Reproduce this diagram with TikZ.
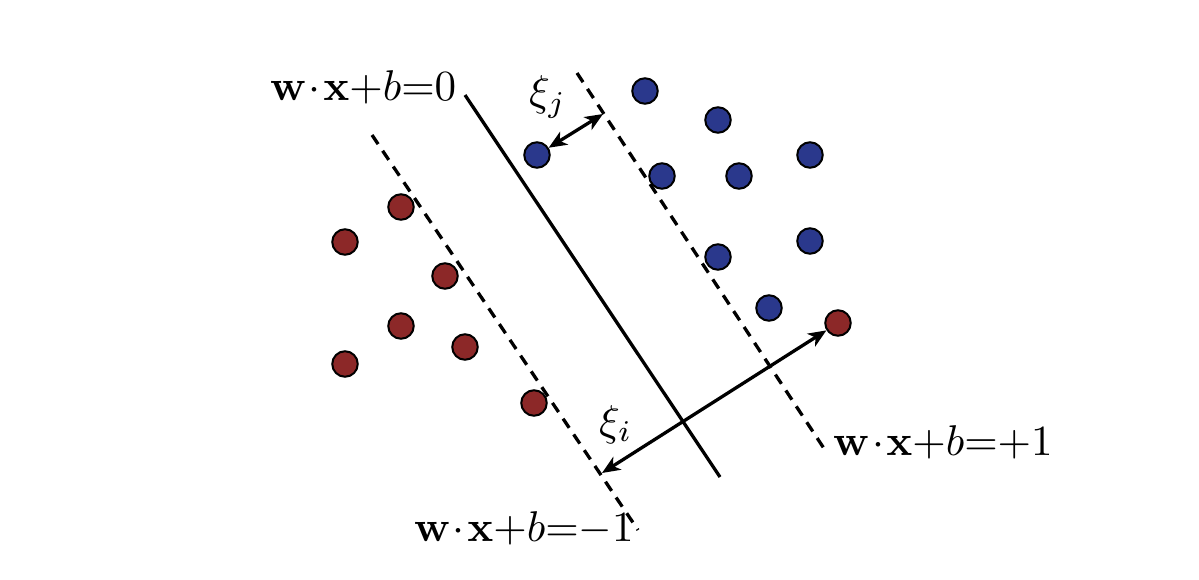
\documentclass[tikz,border=0pt]{standalone}
\usetikzlibrary{arrows.meta}
\definecolor{dotblue}{RGB}{42,56,140}
\definecolor{dotred}{RGB}{140,40,40}
\newcommand{\bigmath}[1]{\scalebox{4.3}{$#1$}}
\begin{document}
\begin{tikzpicture}[x=1pt,y=-1pt,
  dotbase/.style={circle,draw=black,line width=2pt,minimum size=25.5pt,inner sep=0pt},
  bdot/.style={dotbase,fill=dotblue},
  rdot/.style={dotbase,fill=dotred},
  hyper/.style={line width=3.3pt},
  marginline/.style={line width=3.3pt,dash pattern=on 11pt off 8pt},
  dist/.style={line width=3.3pt,{Stealth[length=18pt,width=15pt,inset=5pt]}-{Stealth[length=18pt,width=15pt,inset=5pt]}},
  lbl/.style={anchor=base west,inner sep=0pt}]
\useasboundingbox (0,0) rectangle (1199,580);
% blue points
\node[bdot] (b1) at (645,91) {};
\node[bdot] (b2) at (718,120) {};
\node[bdot] (b3) at (537,155) {};
\node[bdot] (b4) at (662,176) {};
\node[bdot] (b5) at (739,176) {};
\node[bdot] (b6) at (810,155) {};
\node[bdot] (b7) at (718,257) {};
\node[bdot] (b8) at (810,241) {};
\node[bdot] (b9) at (769,308) {};
% red points
\node[rdot] (r1) at (401,207) {};
\node[rdot] (r2) at (345,242) {};
\node[rdot] (r3) at (445,276) {};
\node[rdot] (r4) at (401,326) {};
\node[rdot] (r5) at (465,347) {};
\node[rdot] (r6) at (345,364) {};
\node[rdot] (r7) at (534,403) {};
\node[rdot] (r8) at (838,323) {};
% lines
\coordinate (m1a) at (372,135); \coordinate (m1b) at (638,530);
\coordinate (h0a) at (465,95);  \coordinate (h0b) at (720,477);
\coordinate (m2a) at (577,73);  \coordinate (m2b) at (825,450);
\draw[marginline] (m1a) -- (m1b);
\draw[hyper] (h0a) -- (h0b);
\draw[marginline] (m2a) -- (m2b);
% slack arrows
\coordinate (pj) at (603,114);
\coordinate (pi) at (602,473);
\draw[dist] (b3) -- (pj);
\draw[dist] (pi) -- (r8);
% labels
\node[lbl] (l0) at (270,101) {\bigmath{\mathbf{w}\mkern1mu{\cdot}\mkern1mu\mathbf{x}{+}b{=}0}};
\node[lbl] (lp) at (833,455) {\bigmath{\mathbf{w}\mkern1mu{\cdot}\mkern1mu\mathbf{x}{+}b{=}{+}1}};
\node[lbl] (lm) at (414,541) {\bigmath{\mathbf{w}\mkern1mu{\cdot}\mkern1mu\mathbf{x}{+}b{=}{-}1}};
\node[lbl] (xj) at (529,106) {\bigmath{\xi_j}};
\node[lbl] (xi) at (599,435) {\bigmath{\xi_i}};
\end{tikzpicture}
\end{document}
